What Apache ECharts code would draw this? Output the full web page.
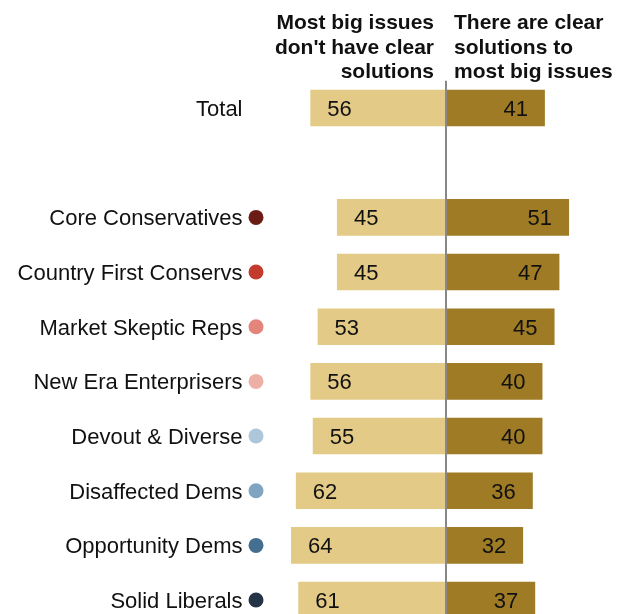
<!DOCTYPE html>
<html>
<head>
<meta charset="utf-8">
<script src="https://cdn.jsdelivr.net/npm/echarts@6/dist/echarts.min.js"></script>
<style>
html,body{margin:0;padding:0;background:#fff;}
#c{width:627px;height:614px;}
</style>
</head>
<body>
<div id="c"></div>
<script>
const categories = ['Total', '', 'Core Conservatives', 'Country First Conservs', 'Market Skeptic Reps',
  'New Era Enterprisers', 'Devout & Diverse', 'Disaffected Dems', 'Opportunity Dems', 'Solid Liberals'];
const noClearSolutions = [56, null, 45, 45, 53, 56, 55, 62, 64, 61];
const clearSolutions = [41, null, 51, 47, 45, 40, 40, 36, 32, 37];
const dotColors = [null, null, '#6B1C15', '#C23B2C', '#E3857A', '#EEAFA7', '#AEC6DA', '#80A5C3', '#456F90', '#233446'];
const headerLeft = 'Most big issues\ndon\'t have clear\nsolutions';
const headerRight = 'There are clear\nsolutions to\nmost big issues';

const FONT = 'Liberation Sans, Arial, sans-serif';
const rich = {
  t: { fontSize: 22, fontFamily: FONT, color: '#111', lineHeight: 26, padding: [4, 6, 0, 0], verticalAlign: 'middle' },
  e: { width: 15, height: 15, verticalAlign: 'middle' }
};
dotColors.forEach((c, i) => {
  if (c) rich['d' + i] = { width: 15, height: 15, borderRadius: 7.5, backgroundColor: c, verticalAlign: 'middle' };
});

const chart = echarts.init(document.getElementById('c'), null, { renderer: 'canvas' });
chart.setOption({
  animation: false,
  backgroundColor: '#fff',
  grid: { left: 276.5, top: 80.7, height: 546.7, right: 12, containLabel: false, outerBoundsMode: 'none' },
  xAxis: {
    type: 'value', min: -70, max: 70,
    axisLine: { show: false }, axisTick: { show: false }, axisLabel: { show: false }, splitLine: { show: false }
  },
  yAxis: {
    type: 'category', data: categories, inverse: true,
    axisLine: { show: false }, axisTick: { show: false }, splitLine: { show: false },
    axisLabel: {
      margin: 13,
      formatter: (v, i) => {
        if (!v) return '';
        return '{t|' + v + '}' + (dotColors[i] ? '{d' + i + '|}' : '{e|}');
      },
      rich: rich
    }
  },
  graphic: [
    { type: 'text', x: 434, y: 11, style: { text: headerLeft, font: 'bold 21px ' + FONT, fill: '#111', align: 'right', verticalAlign: 'top', lineHeight: 24.5 } },
    { type: 'text', x: 454, y: 11, style: { text: headerRight, font: 'bold 21px ' + FONT, fill: '#111', align: 'left', verticalAlign: 'top', lineHeight: 24.5 } }
  ],
  series: [
    {
      type: 'bar', name: 'No clear', barWidth: '67%', barGap: '-100%',
      data: noClearSolutions.map(v => v == null ? null : -v),
      itemStyle: { color: '#E3CA86' },
      label: { show: true, position: 'insideLeft', distance: 17, fontSize: 22, fontFamily: FONT, color: '#111',
        offset: [0, 2], formatter: p => Math.abs(p.value) },
      markLine: {
        silent: true, symbol: 'none', label: { show: false },
        lineStyle: { color: '#888', width: 2, type: 'solid' },
        data: [{ xAxis: 0 }]
      },
      z: 2
    },
    {
      type: 'bar', name: 'Clear', barWidth: '67%', barGap: '-100%',
      data: clearSolutions,
      itemStyle: { color: '#9E7B24' },
      label: { show: true, position: 'insideRight', distance: 17, fontSize: 22, fontFamily: FONT, color: '#111',
        offset: [0, 2] },
      z: 2
    }
  ]
});
</script>
</body>
</html>
